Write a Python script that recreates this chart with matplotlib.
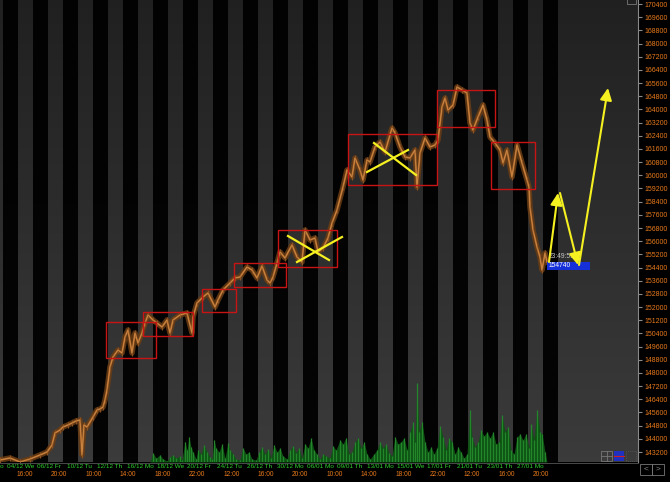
import numpy as np
import matplotlib
matplotlib.use("Agg")
import matplotlib.pyplot as plt
from matplotlib.patches import Rectangle, FancyArrowPatch
import matplotlib.transforms as mtransforms

# ---------------- data ----------------
# price path (bar index, price)
bar_x = [0, 10, 20, 30, 40, 47, 52, 55, 60, 63, 68, 72, 76, 80, 82, 84, 87, 93, 97, 100,
         103, 105, 107, 110, 113, 118, 122, 125, 128, 132, 135, 138, 142, 145, 148, 153, 157, 162, 167, 170,
         173, 180, 187, 192, 193, 197, 203, 208, 215, 218, 223, 230, 235, 240, 247, 252, 257, 262, 267, 270,
         273, 277, 280, 285, 292, 297, 302, 305, 310, 315, 318, 323, 328, 332, 337, 343, 347, 352, 355, 360,
         363, 367, 370, 375, 380, 385, 392, 395, 400, 405, 410, 415, 417, 420, 425, 430, 435, 438, 442, 445,
         448, 453, 457, 462, 467, 470, 473, 478, 483, 487, 490, 495, 500, 503, 507, 512, 517, 522, 527, 529,
         530, 533, 537, 540, 542, 545, 547]
price = [142715, 142836, 142593, 142775, 143018, 143200, 143625, 144354, 144536, 144718, 144840, 144961, 145082, 145143, 143018, 144840, 144718, 145325, 145750, 145811,
         145932, 146357, 146965, 148361, 148968, 149393, 149211, 150182, 150607, 149211, 150425, 149818, 150425, 151032, 151518, 151215, 151032, 150790, 151215, 150425,
         151215, 151518, 151640, 150425, 151397, 152247, 152611, 152854, 152004, 152429, 153036, 153461, 153765, 153825, 154432, 154250, 153765, 154493, 153643, 153461,
         153825, 154675, 155343, 154979, 155768, 155039, 154736, 156679, 156072, 156193, 155343, 155586, 156193, 157104, 157893, 159289, 160322, 159897, 161050, 160322,
         159714, 160929, 160807, 161718, 162022, 161414, 162872, 162568, 161718, 161111, 161050, 161536, 159289, 161354, 162264, 161718, 161839, 162143, 164147, 164693,
         163964, 164268, 165361, 165179, 164997, 163175, 162750, 163539, 164268, 163357, 162325, 161961, 161536, 160747, 161536, 159897, 161839, 160747, 159714, 159289,
         158075, 156679, 155647, 155039, 154250, 155282, 154736]

# volume (bar index, volume)
vol_x = [150, 153, 156, 160, 163, 167, 170, 173, 176, 180, 182, 185, 187, 189, 191, 193, 196, 198, 201, 204,
         207, 210, 212, 214, 216, 219, 222, 225, 228, 230, 233, 236, 240, 243, 246, 249, 252, 256, 259, 262,
         265, 268, 271, 274, 277, 280, 283, 287, 290, 293, 296, 299, 302, 305, 308, 311, 314, 317, 320, 323,
         326, 330, 333, 336, 340, 343, 346, 349, 352, 355, 358, 361, 364, 367, 370, 374, 377, 380, 383, 386,
         389, 392, 395, 398, 401, 404, 407, 410, 413, 415, 417, 419, 422, 425, 428, 431, 434, 437, 440, 443,
         446, 449, 452, 455, 458, 461, 464, 467, 470, 472, 475, 478, 481, 484, 487, 490, 493, 496, 499, 502,
         505, 508, 511, 514, 517, 520, 523, 526, 529, 531, 534, 537, 540, 542, 545, 547]
vol = [0, 9, 4, 7, 3, 1, 5, 7, 4, 6, 2, 20, 12, 25, 15, 10, 3, 12, 8, 17,
       10, 5, 3, 22, 14, 10, 18, 4, 19, 12, 8, 3, 2, 14, 8, 10, 3, 2, 10, 15,
       8, 13, 4, 17, 10, 14, 6, 3, 12, 16, 9, 14, 4, 18, 14, 24, 12, 8, 3, 8,
       6, 4, 16, 12, 22, 18, 24, 8, 10, 20, 24, 14, 20, 8, 3, 8, 12, 20, 14, 18,
       9, 6, 25, 18, 20, 24, 12, 30, 40, 20, 79, 30, 40, 20, 10, 15, 8, 14, 36, 25,
       12, 24, 20, 8, 15, 10, 4, 8, 52, 25, 15, 20, 32, 26, 30, 24, 30, 18, 20, 47,
       30, 35, 12, 8, 25, 28, 22, 28, 14, 38, 22, 52, 30, 28, 10, 0]

# consolidation boxes
box_x0 = [106, 143, 202, 234, 278, 348, 437, 491]
box_x1 = [156, 193, 236, 286, 337, 437, 495, 535]
box_lo = [148907, 150243, 151700, 153218, 154432, 159411, 162932, 159168]
box_hi = [151093, 151700, 153097, 154675, 156679, 162507, 165179, 162022]

# yellow crosses (x0, p0, x1, p1)
cross_lines = [(288, 156314, 329, 154857), (297, 154736, 342, 156254),
               (374, 161961, 416, 160018), (367, 160200, 408, 161536)]
# projected path arrows
arrows = [(549, 154736, 558, 158925), (560, 158925, 578, 154553), (579, 154553, 608, 165300)]

date_labels = ["02/12 Mo", "04/12 We", "06/12 Fr", "10/12 Tu", "12/12 Th", "16/12 Mo", "18/12 We",
               "20/12 Fr", "24/12 Tu", "26/12 Th", "30/12 Mo", "06/01 Mo", "09/01 Th", "13/01 Mo",
               "15/01 We", "17/01 Fr", "21/01 Tu", "23/01 Th", "27/01 Mo"]
time_labels = ["16:00", "20:00", "10:00", "14:00", "18:00", "22:00", "12:00", "16:00",
               "20:00", "10:00", "14:00", "18:00", "22:00", "12:00", "16:00", "20:00"]
yticks = list(range(143200, 170401, 800))
last_time = "23:49:59"
last_price = "154740"

# ---------------- figure ----------------
FONT = ["Liberation Sans", "DejaVu Sans"]
plt.rcParams["font.family"] = FONT
W, H = 670, 482
fig = plt.figure(figsize=(W / 100, H / 100), dpi=100, facecolor="black")
ax = fig.add_axes([0, 20 / H, 638 / W, 462 / H])
ax.set_facecolor("#040404")
YMIN, YMAX = 142593, 170643
XMAX = 638

# session stripes
GRAY = "#3b3b3b"
k = -12
while k < 540:
    ax.axvspan(k, k + 15, color=GRAY, lw=0, zorder=0)
    k += 30
ax.axvspan(558, XMAX, color=GRAY, lw=0, zorder=0)

# vertical darkening gradient (top darker)
grad = np.zeros((256, 1, 4))
grad[:, 0, 3] = np.linspace(0.45, 0.0, 256)
ax.imshow(grad, extent=[0, XMAX, YMIN, YMAX], aspect="auto", zorder=1, origin="upper")

# volume on an overlay axis
vax = fig.add_axes(ax.get_position(), facecolor="none")
vax.set_xlim(0, XMAX)
vax.set_ylim(0, 462)
vax.fill_between(vol_x, 0, vol, color="#0e5212", lw=0, zorder=2)
vax.vlines(vol_x, 0, vol, color="#23862a", lw=0.9, zorder=3)
vax.axis("off")

# price
ax.plot(bar_x, price, color="#6a3c14", lw=4.0, alpha=0.85, zorder=4)
ax.plot(bar_x, price, color="#a8642a", lw=1.4, zorder=5, marker="|", markersize=5,
        markeredgewidth=0.8, markeredgecolor="#8a5222")
ax.plot(bar_x, price, color="#e09a50", lw=0.5, alpha=0.8, zorder=5)

# boxes
for x0, x1, lo, hi in zip(box_x0, box_x1, box_lo, box_hi):
    ax.add_patch(Rectangle((x0, lo), x1 - x0, hi - lo, fill=False, ec="#c81414", lw=1.0, zorder=6))

for x0, p0, x1, p1 in cross_lines:
    ax.plot([x0, x1], [p0, p1], color="#f5f020", lw=1.6, zorder=7)

for x0, p0, x1, p1 in arrows:
    ax.add_patch(FancyArrowPatch((x0, p0), (x1, p1), arrowstyle="-|>,head_length=4.5,head_width=2.2",
                                 color="#f5f020", lw=1.5, zorder=9, mutation_scale=1.6,
                                 shrinkA=0, shrinkB=0))

# last price label
ax.add_patch(Rectangle((547, 154280), 43, 480, color="#1530d8", lw=0, zorder=8))
ax.text(549, 154520, last_price, color="white", fontsize=4.8, va="center", ha="left", zorder=8.5)
ax.text(549, 155040, last_time, color="#c8c8c8", fontsize=4.8, va="center", ha="left", zorder=8.5)

ax.set_xlim(0, XMAX)
ax.set_ylim(YMIN, YMAX)

# right axis
ax.yaxis.tick_right()
ax.set_yticks(yticks)
ax.set_yticklabels([str(v) for v in yticks], fontsize=5.0)
ax.tick_params(axis="y", colors="#8a8a8a", length=3, width=0.8, pad=2, labelcolor="#e8791c")
ax.set_xticks([])
for s in ["top", "left", "bottom"]:
    ax.spines[s].set_visible(False)
ax.spines["right"].set_color("#8a8a8a")
ax.spines["right"].set_linewidth(0.8)

# bottom labels
trans_g = mtransforms.blended_transform_factory(ax.transData, fig.transFigure)
for i, lab in enumerate(date_labels):
    ax.text(-23 + 30 * i, 1 - 466 / H, lab, color="#2fd42f", fontsize=4.6, ha="left", va="center",
            transform=trans_g, clip_on=False)
for i, lab in enumerate(time_labels):
    ax.text(25 + 34.4 * i, 1 - 474 / H, lab, color="#e8791c", fontsize=4.8, ha="center", va="center",
            transform=trans_g, clip_on=False)

# ui details
fig.add_artist(plt.Line2D([0, 638 / W], [1 - 462.5 / H] * 2, color="#555555", lw=0.6))
def px_rect(x, y, w, h, **kw):
    fig.add_artist(Rectangle((x / W, 1 - (y + h) / H), w / W, h / H, transform=fig.transFigure, **kw))
px_rect(601, 451, 11, 10, fill=False, ec="#777777", lw=0.6)
fig.add_artist(plt.Line2D([606.5 / W] * 2, [1 - 461 / H, 1 - 451 / H], color="#777777", lw=0.6))
fig.add_artist(plt.Line2D([601 / W, 612 / W], [1 - 456 / H] * 2, color="#777777", lw=0.6))
px_rect(614, 451, 10, 10, color="#2030c0", lw=0)
fig.add_artist(plt.Line2D([614 / W, 624 / W], [1 - 456 / H] * 2, color="#d02020", lw=0.8))
px_rect(626, 451, 10, 10, fill=False, ec="#666666", lw=0.5, ls=":")
px_rect(640, 464, 12, 11, fill=False, ec="#777777", lw=0.6)
px_rect(652, 464, 12, 11, fill=False, ec="#777777", lw=0.6)
fig.text(646 / W, 1 - 469.5 / H, "<", color="#888888", fontsize=6, ha="center", va="center")
fig.text(658 / W, 1 - 469.5 / H, ">", color="#888888", fontsize=6, ha="center", va="center")
px_rect(627, -2, 9, 6, fill=False, ec="#777777", lw=0.6)

fig.savefig("out.png", dpi=100, facecolor="black")
